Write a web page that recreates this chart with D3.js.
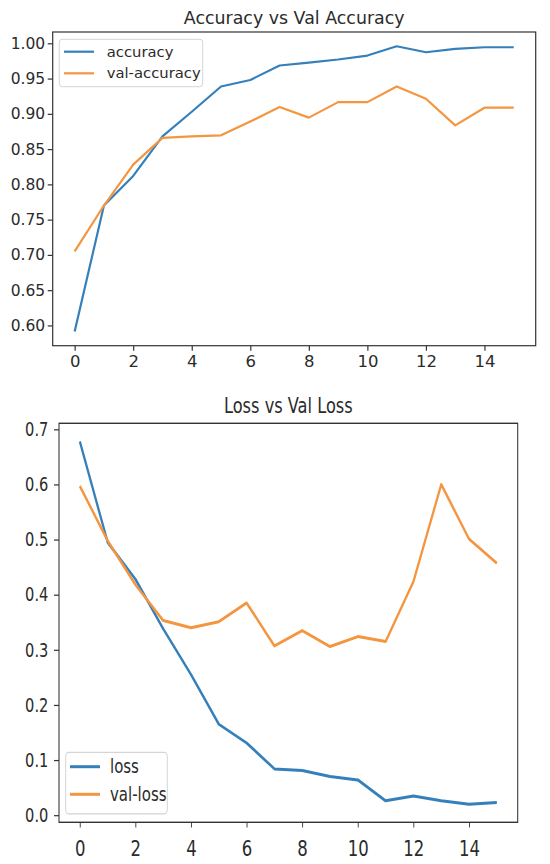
<!DOCTYPE html>
<html>
<head>
<meta charset="utf-8">
<script src="https://cdn.jsdelivr.net/npm/d3@7"></script>
<style>
  body { margin: 0; background: #fff; }
  text { font-family: "DejaVu Sans", sans-serif; fill: #2b2b2b; }
</style>
</head>
<body>
<div id="container"></div>
<script>
/* DATA */
const epochs = [0, 1, 2, 3, 4, 5, 6, 7, 8, 9, 10, 11, 12, 13, 14, 15];
const accuracy = [0.5915, 0.770, 0.812, 0.868, 0.903, 0.9388, 0.948, 0.9685,
                  0.9727, 0.977, 0.9826, 0.9958, 0.9873, 0.992, 0.9944, 0.9944];
const valAccuracy = [0.705, 0.770, 0.828, 0.866, 0.868, 0.8695, 0.889, 0.9096,
                     0.8946, 0.9166, 0.9166, 0.9388, 0.9214, 0.8837, 0.9087, 0.9087];
const loss = [0.678, 0.495, 0.428, 0.338, 0.255, 0.165, 0.131, 0.084,
              0.081, 0.070, 0.064, 0.026, 0.035, 0.026, 0.020, 0.023];
const valLoss = [0.597, 0.498, 0.418, 0.353, 0.340, 0.351, 0.385, 0.307,
                 0.335, 0.306, 0.324, 0.315, 0.424, 0.600, 0.501, 0.457];
const xTicks = [0, 2, 4, 6, 8, 10, 12, 14];
const accTicks = [0.60, 0.65, 0.70, 0.75, 0.80, 0.85, 0.90, 0.95, 1.00];
const lossTicks = [0.0, 0.1, 0.2, 0.3, 0.4, 0.5, 0.6, 0.7];
const accNames = ["accuracy", "val-accuracy"];
const lossNames = ["loss", "val-loss"];

/* CONSTANTS */
const width = 550, height = 864;
const colors = ["#3580ba", "#f4953f"];
const ink = "#333";

// pad a domain like matplotlib does (5% each side)
function padded(values) {
  const [lo, hi] = d3.extent(values);
  const m = (hi - lo) * 0.05;
  return [lo - m, hi + m];
}

const svg = d3.select("#container")
  .append("svg")
  .attr("width", width)
  .attr("height", height);

svg.append("rect").attr("width", width).attr("height", height).attr("fill", "#fff");

function styleAxis(g, size) {
  g.select(".domain").remove();
  g.selectAll(".tick line").attr("stroke", ink).attr("stroke-width", 1.2);
  g.selectAll(".tick text")
    .attr("fill", "#2b2b2b")
    .style("font-family", "DejaVu Sans, sans-serif")
    .style("font-size", size + "px");
}

/* TOP CHART: accuracy */
const accBox = { left: 52.7, right: 535.7, top: 32, bottom: 345.7 };

const xAcc = d3.scaleLinear().domain([-0.75, 15.75]).range([accBox.left, accBox.right]);
const yAcc = d3.scaleLinear().domain(padded(accuracy.concat(valAccuracy)))
  .range([accBox.bottom, accBox.top]);

svg.append("g")
  .attr("transform", `translate(0, ${accBox.bottom})`)
  .call(d3.axisBottom(xAcc).tickValues(xTicks).tickFormat(d3.format("d"))
    .tickSize(5).tickPadding(5))
  .call(g => styleAxis(g, 16.5));

svg.append("g")
  .attr("transform", `translate(${accBox.left}, 0)`)
  .call(d3.axisLeft(yAcc).tickValues(accTicks).tickFormat(d3.format(".2f"))
    .tickSize(5).tickPadding(2.5))
  .call(g => styleAxis(g, 15.5));

const accLine = d3.line().x((d, i) => xAcc(epochs[i])).y(d => yAcc(d));
[accuracy, valAccuracy].forEach((s, k) => {
  svg.append("path")
    .datum(s)
    .attr("d", accLine)
    .attr("fill", "none")
    .attr("stroke", colors[k])
    .attr("stroke-width", 2.2)
    .attr("stroke-linejoin", "round");
});

svg.append("rect")
  .attr("x", accBox.left).attr("y", accBox.top)
  .attr("width", accBox.right - accBox.left).attr("height", accBox.bottom - accBox.top)
  .attr("fill", "none").attr("stroke", ink).attr("stroke-width", 1.2);

svg.append("text")
  .attr("x", (accBox.left + accBox.right) / 2).attr("y", 24)
  .attr("text-anchor", "middle")
  .style("font-size", "17.4px")
  .text("Accuracy vs Val Accuracy");

// legend
const accLegend = svg.append("g");
accLegend.append("rect")
  .attr("x", 59.3).attr("y", 39.3).attr("width", 143.4).attr("height", 47.4)
  .attr("rx", 3).attr("fill", "#fff").attr("fill-opacity", 0.8)
  .attr("stroke", "#d4d4d4");
accNames.forEach((name, k) => {
  const y = 51.7 + k * 21.6;
  accLegend.append("line")
    .attr("x1", 64).attr("x2", 94).attr("y1", y).attr("y2", y)
    .attr("stroke", colors[k]).attr("stroke-width", 2.2);
  accLegend.append("text")
    .attr("x", 106.7).attr("y", y).attr("dy", "0.33em")
    .style("font-size", "14.8px")
    .text(name);
});

/* BOTTOM CHART: loss (drawn squeezed horizontally, like the reference) */
const sx = 0.75;
const lossBox = { left: 59 / sx, right: 517.7 / sx, top: 423.3, bottom: 822.3 };
const g2 = svg.append("g").attr("transform", `scale(${sx},1)`);

const xLoss = d3.scaleLinear().domain([-0.75, 15.75]).range([lossBox.left, lossBox.right]);
const yLoss = d3.scaleLinear().domain(padded(loss.concat(valLoss)))
  .range([lossBox.bottom, lossBox.top]);

g2.append("g")
  .attr("transform", `translate(0, ${lossBox.bottom})`)
  .call(d3.axisBottom(xLoss).tickValues(xTicks).tickFormat(d3.format("d"))
    .tickSize(5.3).tickPadding(13))
  .call(g => styleAxis(g, 22));

g2.append("g")
  .attr("transform", `translate(${lossBox.left}, 0)`)
  .call(d3.axisLeft(yLoss).tickValues(lossTicks).tickFormat(d3.format(".1f"))
    .tickSize(6.7).tickPadding(7.5))
  .call(g => styleAxis(g, 19.5));

const lossLine = d3.line().x((d, i) => xLoss(epochs[i])).y(d => yLoss(d));
[loss, valLoss].forEach((s, k) => {
  g2.append("path")
    .datum(s)
    .attr("d", lossLine)
    .attr("fill", "none")
    .attr("stroke", colors[k])
    .attr("stroke-width", 3)
    .attr("stroke-linejoin", "round");
});

g2.append("rect")
  .attr("x", lossBox.left).attr("y", lossBox.top)
  .attr("width", lossBox.right - lossBox.left).attr("height", lossBox.bottom - lossBox.top)
  .attr("fill", "none").attr("stroke", ink).attr("stroke-width", 1.4);

g2.append("text")
  .attr("x", (lossBox.left + lossBox.right) / 2).attr("y", 412.7)
  .attr("text-anchor", "middle")
  .style("font-size", "21.6px")
  .text("Loss vs Val Loss");

const lossLegend = g2.append("g");
lossLegend.append("rect")
  .attr("x", 65.7 / sx).attr("y", 752.3).attr("width", (167.3 - 65.7) / sx).attr("height", 61.5)
  .attr("rx", 4).attr("fill", "#fff").attr("fill-opacity", 0.8)
  .attr("stroke", "#d4d4d4").attr("stroke-width", 1.3);
lossNames.forEach((name, k) => {
  const y = 766.7 + k * 27.6;
  lossLegend.append("line")
    .attr("x1", 70 / sx).attr("x2", 100 / sx).attr("y1", y).attr("y2", y)
    .attr("stroke", colors[k]).attr("stroke-width", 3);
  lossLegend.append("text")
    .attr("x", 110 / sx).attr("y", y).attr("dy", "0.33em")
    .style("font-size", "20px")
    .text(name);
});
</script>
</body>
</html>
